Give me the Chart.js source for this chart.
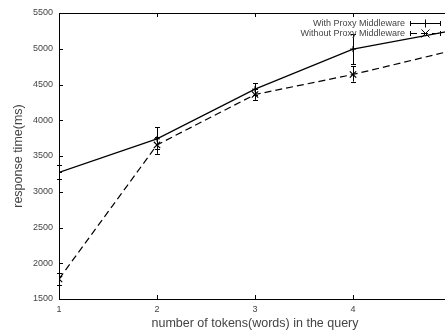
<!DOCTYPE html>
<html>
<head>
<meta charset="utf-8">
<script src="https://cdn.jsdelivr.net/npm/chart.js@4/dist/chart.umd.min.js"></script>
<style>
  html, body { margin: 0; padding: 0; background: #fff; overflow: hidden; }
  #wrap { width: 470px; height: 331px; }
</style>
</head>
<body>
<div id="wrap"><canvas id="responseChart" width="470" height="331"></canvas></div>
<script>
// number of tokens in the query (x values)
const tokens = [1, 2, 3, 4, 5];

// With Proxy Middleware: mean and error bar bounds (ms)
const withProxy     = [3270, 3740, 4435, 4995, 5250];
const withProxyLow  = [3180, 3600, 4350, 4785, 5150];
const withProxyHigh = [3370, 3900, 4520, 5205, 5350];

// Without Proxy Middleware: mean and error bar bounds (ms)
const withoutProxy     = [1780, 3655, 4360, 4640, 4970];
const withoutProxyLow  = [1695, 3530, 4285, 4540, 4880];
const withoutProxyHigh = [1870, 3770, 4440, 4760, 5060];

const seriesLabels = ['With Proxy Middleware', 'Without Proxy Middleware'];

const FONT = "'Liberation Sans', Arial, Helvetica, sans-serif";
const TEXT = '#444';

function toPoints(xs, ys) {
    return xs.map((x, i) => ({ x: x, y: ys[i] }));
}

// gnuplot style: inward ticks, top border, error bars and the key
const gnuplotLook = {
    id: 'gnuplotLook',
    afterDatasetsDraw(chart) {
        const ctx = chart.ctx;
        const xs = chart.scales.x, ys = chart.scales.y;
        const bounds = [[withProxyLow, withProxyHigh], [withoutProxyLow, withoutProxyHigh]];
        ctx.save();
        ctx.strokeStyle = '#000';
        ctx.lineWidth = 1;
        bounds.forEach(([lo, hi]) => {
            tokens.forEach((t, i) => {
                const px = Math.round(xs.getPixelForValue(t)) + 0.5;
                const y1 = ys.getPixelForValue(lo[i]);
                const y2 = ys.getPixelForValue(hi[i]);
                ctx.beginPath();
                ctx.moveTo(px, y1); ctx.lineTo(px, y2);
                ctx.moveTo(px - 2.5, Math.round(y1) + 0.5); ctx.lineTo(px + 2.5, Math.round(y1) + 0.5);
                ctx.moveTo(px - 2.5, Math.round(y2) + 0.5); ctx.lineTo(px + 2.5, Math.round(y2) + 0.5);
                ctx.stroke();
            });
        });
        ctx.restore();
    },
    afterDraw(chart) {
        const ctx = chart.ctx;
        const a = chart.chartArea;
        const xs = chart.scales.x, ys = chart.scales.y;
        ctx.save();
        ctx.strokeStyle = '#000';
        ctx.lineWidth = 1;
        // top border
        ctx.beginPath();
        ctx.moveTo(a.left, Math.round(a.top) + 0.5);
        ctx.lineTo(a.right + 20, Math.round(a.top) + 0.5);
        ctx.stroke();
        // inward ticks
        ctx.beginPath();
        ys.ticks.forEach(t => {
            const py = Math.round(ys.getPixelForValue(t.value)) + 0.5;
            ctx.moveTo(a.left, py); ctx.lineTo(a.left + 4, py);
        });
        xs.ticks.forEach(t => {
            const px = Math.round(xs.getPixelForValue(t.value)) + 0.5;
            ctx.moveTo(px, a.bottom); ctx.lineTo(px, a.bottom - 4);
            ctx.moveTo(px, a.top); ctx.lineTo(px, a.top + 4);
        });
        ctx.stroke();

        // key
        ctx.font = '9px ' + FONT;
        ctx.fillStyle = TEXT;
        ctx.textAlign = 'right';
        ctx.textBaseline = 'middle';
        const tx = a.right - 46, s1 = a.right - 41, s2 = a.right - 10, mid = (s1 + s2) / 2;
        const rows = [a.top + 10, a.top + 20];
        seriesLabels.forEach((lab, k) => {
            const ry = Math.round(rows[k]) + 0.5;
            ctx.fillText(lab, tx, ry);
            ctx.beginPath();
            if (k === 1) ctx.setLineDash([7, 4]);
            ctx.moveTo(s1, ry); ctx.lineTo(s2, ry);
            ctx.stroke();
            ctx.setLineDash([]);
            ctx.beginPath();
            ctx.moveTo(s1 + 0.5, ry - 2.5); ctx.lineTo(s1 + 0.5, ry + 2.5);
            ctx.moveTo(s2 - 0.5, ry - 2.5); ctx.lineTo(s2 - 0.5, ry + 2.5);
            if (k === 0) {
                ctx.moveTo(mid, ry - 4); ctx.lineTo(mid, ry + 4);
            } else {
                ctx.moveTo(mid - 4, ry - 4); ctx.lineTo(mid + 4, ry + 4);
                ctx.moveTo(mid + 4, ry - 4); ctx.lineTo(mid - 4, ry + 4);
            }
            ctx.stroke();
        });
        ctx.restore();
    }
};

new Chart(document.getElementById('responseChart'), {
    type: 'line',
    data: {
        datasets: [
            {
                label: seriesLabels[0],
                data: toPoints(tokens, withProxy),
                borderColor: '#000',
                borderWidth: 1.2,
                pointStyle: 'cross',
                pointRadius: 3,
                pointBorderColor: '#000',
                pointBorderWidth: 1,
                tension: 0,
                fill: false
            },
            {
                label: seriesLabels[1],
                data: toPoints(tokens, withoutProxy),
                borderColor: '#000',
                borderWidth: 1.2,
                borderDash: [7, 4],
                pointStyle: 'crossRot',
                pointRadius: 4.5,
                pointBorderColor: '#000',
                pointBorderWidth: 1.2,
                tension: 0,
                fill: false
            }
        ]
    },
    options: {
        responsive: false,
        animation: false,
        layout: { padding: { left: 0, top: 13, right: 19, bottom: 0 } },
        plugins: {
            legend: { display: false },
            tooltip: { enabled: false }
        },
        scales: {
            x: {
                type: 'linear',
                min: 1,
                max: 5,
                afterFit: s => { s.height = 32; },
                grid: { display: false, drawTicks: false },
                border: { display: true, color: '#000', width: 1 },
                ticks: {
                    stepSize: 1, padding: 5, color: TEXT,
                    font: { family: FONT, size: 9 },
                    callback: v => String(v)
                },
                title: {
                    display: true,
                    text: 'number of tokens(words) in the query',
                    color: TEXT,
                    font: { family: FONT, size: 12.5 },
                    padding: { top: 2, bottom: 0 }
                }
            },
            y: {
                min: 1500,
                max: 5500,
                afterFit: s => { s.width = 59; },
                grid: { display: false, drawTicks: false },
                border: { display: true, color: '#000', width: 1 },
                ticks: {
                    stepSize: 500, padding: 6, color: TEXT,
                    font: { family: FONT, size: 9 },
                    callback: v => String(v)
                },
                title: {
                    display: true,
                    text: 'response time(ms)',
                    color: TEXT,
                    font: { family: FONT, size: 12.5 },
                    padding: { top: 11, bottom: 0 }
                }
            }
        }
    },
    plugins: [gnuplotLook]
});
</script>
</body>
</html>
